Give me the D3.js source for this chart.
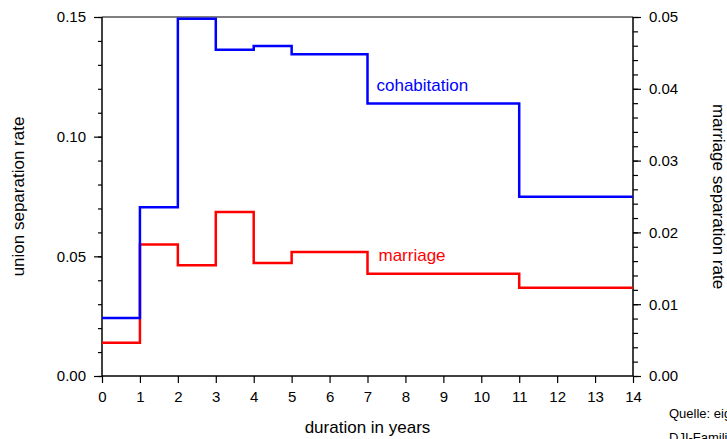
<!DOCTYPE html>
<html>
<head>
<meta charset="utf-8">
<script src="https://cdn.jsdelivr.net/npm/d3@7"></script>
<style>
  html, body { margin: 0; padding: 0; background: #fff; }
  svg { display: block; font-family: "Liberation Sans", Arial, sans-serif; }
</style>
</head>
<body>
<svg id="chart" width="727" height="439"></svg>
<script>
// Interval boundaries (years of union duration)
const breaks = [0, 1, 2, 3, 4, 5, 7, 11, 14];
// Separation rate per interval
const cohabitation = [0.0242, 0.0705, 0.1493, 0.1363, 0.1379, 0.1344, 0.1139, 0.0749];
const marriage     = [0.00464, 0.0183, 0.01542, 0.02284, 0.01574, 0.01727, 0.01425, 0.0123];
// Axis ticks
const xTicks = d3.range(0, 15);
const leftMajor = [0, 0.05, 0.10, 0.15];
const leftMinor = d3.range(0, 0.1501, 0.01);
const rightMajor = [0, 0.01, 0.02, 0.03, 0.04, 0.05];
const rightMinor = d3.range(0, 0.0501, 0.002);

const svg = d3.select("#chart");
const L = 102, R = 633, T = 17, B = 376;

const x = d3.scaleLinear().domain([0, 14]).range([L, R]);
const yL = d3.scaleLinear().domain([0, 0.15]).range([B, T]);
const yR = d3.scaleLinear().domain([0, 0.05]).range([B, T]);

const tickFont = 15;

// Frame top line
svg.append("line")
  .attr("x1", L).attr("x2", R).attr("y1", T).attr("y2", T)
  .attr("stroke", "#555").attr("stroke-width", 1.5);

// Left axis: minor ticks then major ticks with labels
const gL = svg.append("g").attr("transform", `translate(${L},0)`);
gL.append("g").call(d3.axisLeft(yL).tickValues(leftMinor).tickSize(4).tickFormat(""))
  .call(g => g.select(".domain").remove());
gL.append("g").call(d3.axisLeft(yL).tickValues(leftMajor).tickSize(8).tickPadding(8).tickFormat(d3.format(".2f")))
  .call(g => g.select(".domain").remove());
gL.append("line").attr("x1", 0).attr("x2", 0).attr("y1", T).attr("y2", B)
  .attr("stroke", "#000").attr("stroke-width", 1.5);

// Right axis
const gR = svg.append("g").attr("transform", `translate(${R},0)`);
gR.append("g").call(d3.axisRight(yR).tickValues(rightMinor).tickSize(5).tickFormat(""))
  .call(g => g.select(".domain").remove());
gR.append("g").call(d3.axisRight(yR).tickValues(rightMajor).tickSize(8).tickPadding(8).tickFormat(d3.format(".2f")))
  .call(g => g.select(".domain").remove());
gR.append("line").attr("x1", 0).attr("x2", 0).attr("y1", T).attr("y2", B)
  .attr("stroke", "#000").attr("stroke-width", 1.5);

// Bottom axis
const gB = svg.append("g").attr("transform", `translate(0,${B})`);
gB.call(d3.axisBottom(x).tickValues(xTicks).tickSize(7).tickPadding(8).tickFormat(d3.format("d")))
  .call(g => g.select(".domain").remove());
gB.append("line").attr("x1", L).attr("x2", R).attr("y1", 0).attr("y2", 0)
  .attr("stroke", "#000").attr("stroke-width", 1.5);

svg.selectAll(".tick line").attr("stroke", "#000").attr("stroke-width", 1.2);
svg.selectAll(".tick text").attr("font-size", tickFont).attr("fill", "#000")
  .attr("font-family", "Liberation Sans, Arial, sans-serif");

// Step series
function stepData(vals) {
  return breaks.map((b, i) => ({ x: b, v: vals[Math.min(i, vals.length - 1)] }));
}
const lineL = d3.line().curve(d3.curveStepAfter).x(d => x(d.x)).y(d => yL(d.v));
const lineR = d3.line().curve(d3.curveStepAfter).x(d => x(d.x)).y(d => yR(d.v));

svg.append("path").datum(stepData(marriage)).attr("d", lineR)
  .attr("fill", "none").attr("stroke", "#ff0000").attr("stroke-width", 2.5);
svg.append("path").datum(stepData(cohabitation)).attr("d", lineL)
  .attr("fill", "none").attr("stroke", "#0000ff").attr("stroke-width", 2.5);

// Series labels
svg.append("text").attr("x", x(7) + 9).attr("y", 91)
  .attr("font-size", 17).attr("fill", "#0000ff").text("cohabitation");
svg.append("text").attr("x", x(7) + 11).attr("y", 261)
  .attr("font-size", 17).attr("fill", "#ff0000").text("marriage");

// Axis titles
svg.append("text").attr("transform", `translate(24,${(T + B) / 2}) rotate(-90)`)
  .attr("text-anchor", "middle").attr("font-size", 17).text("union separation rate");
svg.append("text").attr("transform", `translate(713,${(T + B) / 2}) rotate(90)`)
  .attr("text-anchor", "middle").attr("font-size", 17).text("marriage separation rate");
svg.append("text").attr("x", (L + R) / 2).attr("y", 433)
  .attr("text-anchor", "middle").attr("font-size", 17).text("duration in years");

// Source note
svg.append("text").attr("x", 669).attr("y", 418).attr("font-size", 13)
  .text("Quelle: eigene Berechnungen");
svg.append("text").attr("x", 669).attr("y", 442).attr("font-size", 13)
  .text("DJI-Familiensurvey");
</script>
</body>
</html>
